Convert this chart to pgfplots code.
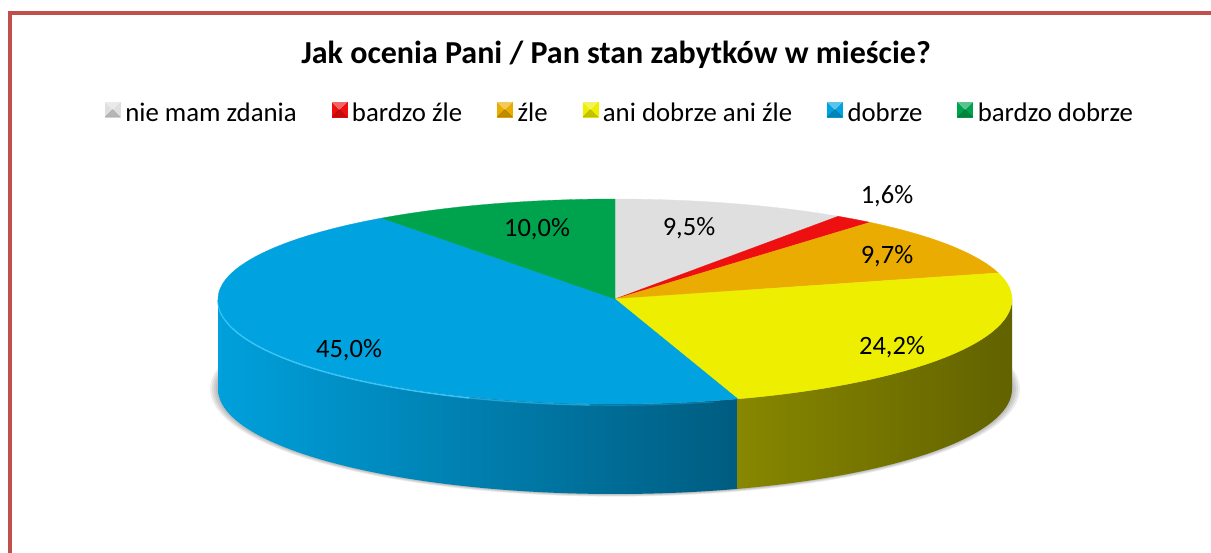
\documentclass[border=0pt]{standalone}
\usepackage{fontspec}
\setmainfont{Carlito}
\usepackage{pgfplots}
\pgfplotsset{compat=1.18}
\definecolor{cGrey}{HTML}{DFDFDF}
\definecolor{cRed}{HTML}{EE1010}
\definecolor{cOrange}{HTML}{EAAC00}
\definecolor{cYellow}{HTML}{EEEE00}
\definecolor{cBlue}{HTML}{00A3E0}
\definecolor{cGreen}{HTML}{00A34D}
\definecolor{cFrame}{HTML}{C0504D}
\definecolor{cRim}{HTML}{45CDFF}
\definecolor{bL}{HTML}{00A0DC}
\definecolor{bM}{HTML}{008FC6}
\definecolor{bR}{HTML}{005C80}
\definecolor{yL}{HTML}{878700}
\definecolor{yM}{HTML}{666600}
\definecolor{yR}{HTML}{626200}
\begin{document}
\begin{tikzpicture}
\begin{axis}[
  width=1211bp, height=553bp, scale only axis,
  xmin=0, xmax=1211, ymin=0, ymax=553, y dir=reverse,
  hide axis, clip=false,
  declare function={PX(\a)=615+397*sin(\a); PY(\a)=299-cos(\a)*(cos(\a)>0 ? 100 : 105);},
  legend columns=6,
  legend cell align=left,
  legend style={at={(axis cs:620,113)}, anchor=center, draw=none, fill=none,
    font=\fontsize{26.8bp}{31bp}\selectfont,
    /tikz/every even column/.append style={column sep=33bp},
    /tikz/every odd column/.append style={column sep=3bp},
    nodes={inner sep=2bp}},
  legend image code/.code={
    \fill[#1] (0bp,-4bp) rectangle (15bp,11bp);
    \fill[white,opacity=0.35] (0bp,11bp) -- (15bp,11bp) -- (7.5bp,3.5bp) -- cycle;
    \fill[black,opacity=0.18] (0bp,-4bp) -- (15bp,-4bp) -- (7.5bp,3.5bp) -- cycle;
  },
]
\coordinate (bbSW) at (axis cs:0,553);
\coordinate (bbNE) at (axis cs:1211,0);
% soft shadow under the pie
\pgfplotsinvokeforeach{2,4,6,8}{
  \addplot[forget plot, fill=black, fill opacity=0.07, draw=none, domain=0:360, samples=120]
    ({615+(397+#1)*sin(x)}, {389-cos(x)*(105+#1/3)}) -- cycle;
}
% side faces (visible front half): blue 45.0 -> 75, yellow 25 -> 45.0 (percent)
\addplot[forget plot, draw=none, left color=bL, middle color=bM, right color=bR,
  variable=\t, samples at={0,1,...,100,100.001,101,102,...,200}]
  ({PX(3.6*(45.0+30*(\t<=100 ? \t : 200-\t)/100))},
   {PY(3.6*(45.0+30*(\t<=100 ? \t : 200-\t)/100)) + (\t>100 ? 90 : 0)}) -- cycle;
\addplot[forget plot, draw=none, left color=yL, middle color=yM, right color=yR,
  variable=\t, samples at={0,1,...,100,100.001,101,102,...,200}]
  ({PX(3.6*(25+20*(\t<=100 ? \t : 200-\t)/100))},
   {PY(3.6*(25+20*(\t<=100 ? \t : 200-\t)/100)) + (\t>100 ? 90 : 0)}) -- cycle;
% rim highlight on the blue side (fading toward the front)
\addplot[forget plot, draw=cRim, line width=1.6bp, opacity=0.85, domain=56:75, samples=50]
  ({PX(3.6*x)}, {PY(3.6*x)+1.2});
\addplot[forget plot, draw=cRim, line width=1.4bp, opacity=0.5, domain=51:56.2, samples=20]
  ({PX(3.6*x)}, {PY(3.6*x)+1.2});
\addplot[forget plot, draw=cRim, line width=1.2bp, opacity=0.25, domain=46:51.2, samples=20]
  ({PX(3.6*x)}, {PY(3.6*x)+1.2});
% top faces: cumulative percent 0, 9.5, 11.1, 20.8, 45.0, 90.0, 100.0
\addplot[fill=cGrey, draw=cGrey, line width=0.3bp, domain=0:9.5, samples=40, variable=\t]
  ({PX(3.6*\t)},{PY(3.6*\t)}) -- (axis cs:615,299) -- cycle;
\addlegendentry{nie mam zdania}
\addplot[fill=cRed, draw=cRed, line width=0.3bp, domain=9.5:11.1, samples=10, variable=\t]
  ({PX(3.6*\t)},{PY(3.6*\t)}) -- (axis cs:615,299) -- cycle;
\addlegendentry{bardzo źle}
\addplot[fill=cOrange, draw=cOrange, line width=0.3bp, domain=11.1:20.8, samples=40, variable=\t]
  ({PX(3.6*\t)},{PY(3.6*\t)}) -- (axis cs:615,299) -- cycle;
\addlegendentry{źle}
\addplot[fill=cYellow, draw=cYellow, line width=0.3bp, domain=20.8:45.0, samples=80, variable=\t]
  ({PX(3.6*\t)},{PY(3.6*\t)}) -- (axis cs:615,299) -- cycle;
\addlegendentry{ani dobrze ani źle}
\addplot[fill=cBlue, draw=cBlue, line width=0.3bp, domain=45.0:90.0, samples=140, variable=\t]
  ({PX(3.6*\t)},{PY(3.6*\t)}) -- (axis cs:615,299) -- cycle;
\addlegendentry{dobrze}
\addplot[fill=cGreen, draw=cGreen, line width=0.3bp, domain=90.0:100.0, samples=40, variable=\t]
  ({PX(3.6*\t)},{PY(3.6*\t)}) -- (axis cs:615,299) -- cycle;
\addlegendentry{bardzo dobrze}
% data labels
\begin{scope}[every node/.style={anchor=base, font=\fontsize{26.5bp}{30bp}\selectfont}]
\node at (axis cs:689,235) {9,5\%};
\node at (axis cs:887,203) {1,6\%};
\node at (axis cs:887,263) {9,7\%};
\node at (axis cs:892,354) {24,2\%};
\node at (axis cs:349,357) {45,0\%};
\node at (axis cs:537,236) {10,0\%};
\end{scope}
% title
\node[anchor=base, font=\bfseries\fontsize{32bp}{38bp}\selectfont] at (axis cs:616,64)
  {Jak ocenia Pani / Pan stan zabytków w mieście?};
% frame
\draw[cFrame, line width=4.2bp, line join=miter] (axis cs:9.7,560) -- (axis cs:9.7,13.3) -- (axis cs:1215,13.3);
\end{axis}
\pgfresetboundingbox
\useasboundingbox (bbSW) rectangle (bbNE);
\end{tikzpicture}
\end{document}
